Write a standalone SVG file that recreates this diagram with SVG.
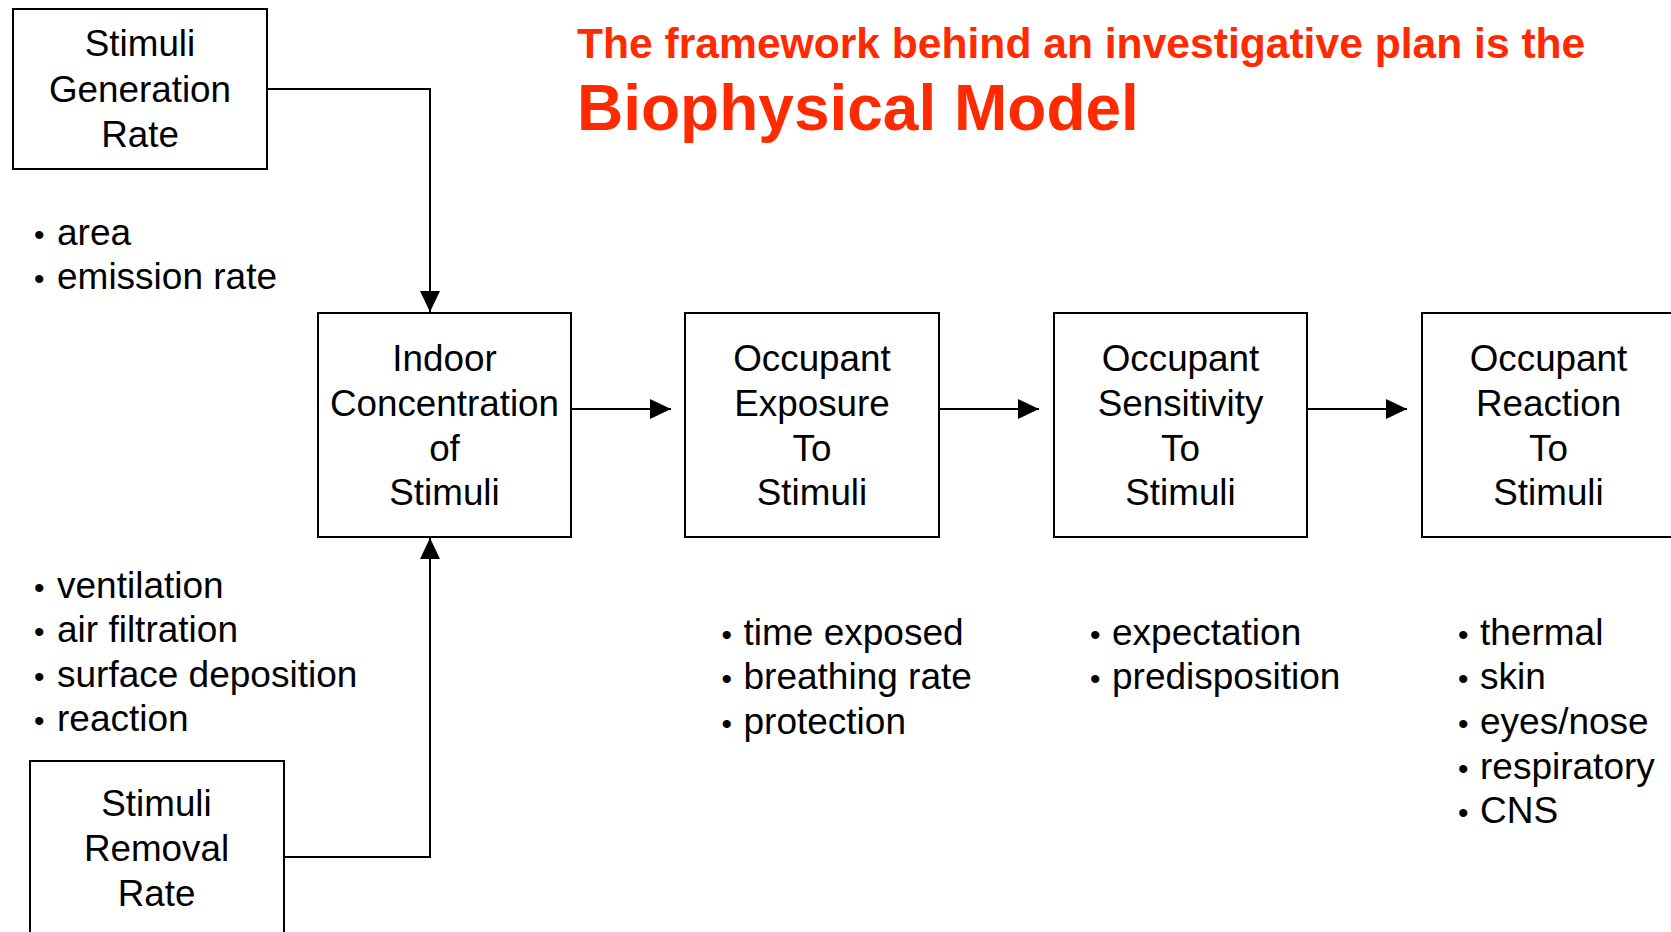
<svg xmlns="http://www.w3.org/2000/svg" width="1671" height="932" viewBox="0 0 1671 932">
<style>
.box{fill:#fff;stroke:#000;stroke-width:2}
.t{font-family:"Liberation Sans",Arial,Helvetica,sans-serif;font-size:36.8px;fill:#000;text-anchor:middle}
.b{font-family:"Liberation Sans",Arial,Helvetica,sans-serif;font-size:37px;fill:#000}
.bul{font-size:30px}
.conn{fill:none;stroke:#000;stroke-width:2}
.title{font-family:"Liberation Sans",Arial,Helvetica,sans-serif;font-weight:bold;fill:#FF2A00}
</style>
<defs>
<marker id="arr" markerUnits="userSpaceOnUse" markerWidth="22" markerHeight="20" refX="21" refY="10" orient="auto" viewBox="0 0 22 20">
<path d="M0,0 L21,10 L0,20 z" fill="#000"/>
</marker>
</defs>
<rect width="1671" height="932" fill="#fff"/>
<g id="title">
<text class="title" x="577" y="58" font-size="42.6">The framework behind an investigative plan is the</text>
<text class="title" x="577" y="130" font-size="64">Biophysical Model</text>
</g>
<g id="connectors">
<polyline class="conn" points="268,89 430,89 430,312" marker-end="url(#arr)"/>
<polyline class="conn" points="284,857 430,857 430,538" marker-end="url(#arr)"/>
<line class="conn" x1="572" y1="409" x2="671" y2="409" marker-end="url(#arr)"/>
<line class="conn" x1="940" y1="409" x2="1039" y2="409" marker-end="url(#arr)"/>
<line class="conn" x1="1308" y1="409" x2="1407" y2="409" marker-end="url(#arr)"/>
</g>
<g id="node-generation">
<rect class="box" x="13" y="9" width="254" height="160"/>
<text class="t" x="140" y="55.5">Stimuli</text>
<text class="t" x="140" y="101.5">Generation</text>
<text class="t" x="140" y="147">Rate</text>
</g>
<g id="node-removal">
<rect class="box" x="30" y="761" width="254" height="200"/>
<text class="t" x="156.5" y="815.5">Stimuli</text>
<text class="t" x="156.5" y="860.5">Removal</text>
<text class="t" x="156.5" y="905.5">Rate</text>
</g>
<g id="node-concentration">
<rect class="box" x="318" y="313" width="253" height="224"/>
<text class="t" x="444.5" y="370.5">Indoor</text>
<text class="t" x="444.5" y="415.5">Concentration</text>
<text class="t" x="444.5" y="460.5">of</text>
<text class="t" x="444.5" y="505">Stimuli</text>
</g>
<g id="node-exposure">
<rect class="box" x="685" y="313" width="254" height="224"/>
<text class="t" x="812" y="370.5">Occupant</text>
<text class="t" x="812" y="415.5">Exposure</text>
<text class="t" x="812" y="460.5">To</text>
<text class="t" x="812" y="505">Stimuli</text>
</g>
<g id="node-sensitivity">
<rect class="box" x="1054" y="313" width="253" height="224"/>
<text class="t" x="1180.5" y="370.5">Occupant</text>
<text class="t" x="1180.5" y="415.5">Sensitivity</text>
<text class="t" x="1180.5" y="460.5">To</text>
<text class="t" x="1180.5" y="505">Stimuli</text>
</g>
<g id="node-reaction">
<rect class="box" x="1422" y="313" width="254" height="224"/>
<text class="t" x="1548.5" y="370.5">Occupant</text>
<text class="t" x="1548.5" y="415.5">Reaction</text>
<text class="t" x="1548.5" y="460.5">To</text>
<text class="t" x="1548.5" y="505">Stimuli</text>
</g>
<g id="list-generation">
<text class="b" y="244.5"><tspan class="bul" x="34">•</tspan><tspan x="57">area</tspan></text>
<text class="b" y="289"><tspan class="bul" x="34">•</tspan><tspan x="57">emission rate</tspan></text>
</g>
<g id="list-removal">
<text class="b" y="597.5"><tspan class="bul" x="34">•</tspan><tspan x="57">ventilation</tspan></text>
<text class="b" y="642"><tspan class="bul" x="34">•</tspan><tspan x="57">air filtration</tspan></text>
<text class="b" y="686.5"><tspan class="bul" x="34">•</tspan><tspan x="57">surface deposition</tspan></text>
<text class="b" y="731"><tspan class="bul" x="34">•</tspan><tspan x="57">reaction</tspan></text>
</g>
<g id="list-exposure">
<text class="b" y="644.5"><tspan class="bul" x="721.5">•</tspan><tspan x="743.5">time exposed</tspan></text>
<text class="b" y="689"><tspan class="bul" x="721.5">•</tspan><tspan x="743.5">breathing rate</tspan></text>
<text class="b" y="733.5"><tspan class="bul" x="721.5">•</tspan><tspan x="743.5">protection</tspan></text>
</g>
<g id="list-sensitivity">
<text class="b" y="644.5"><tspan class="bul" x="1090">•</tspan><tspan x="1112">expectation</tspan></text>
<text class="b" y="689"><tspan class="bul" x="1090">•</tspan><tspan x="1112">predisposition</tspan></text>
</g>
<g id="list-reaction">
<text class="b" y="644.5"><tspan class="bul" x="1458">•</tspan><tspan x="1480">thermal</tspan></text>
<text class="b" y="689"><tspan class="bul" x="1458">•</tspan><tspan x="1480">skin</tspan></text>
<text class="b" y="733.5"><tspan class="bul" x="1458">•</tspan><tspan x="1480">eyes/nose</tspan></text>
<text class="b" y="778.5"><tspan class="bul" x="1458">•</tspan><tspan x="1480">respiratory</tspan></text>
<text class="b" y="823"><tspan class="bul" x="1458">•</tspan><tspan x="1480">CNS</tspan></text>
</g>
</svg>
